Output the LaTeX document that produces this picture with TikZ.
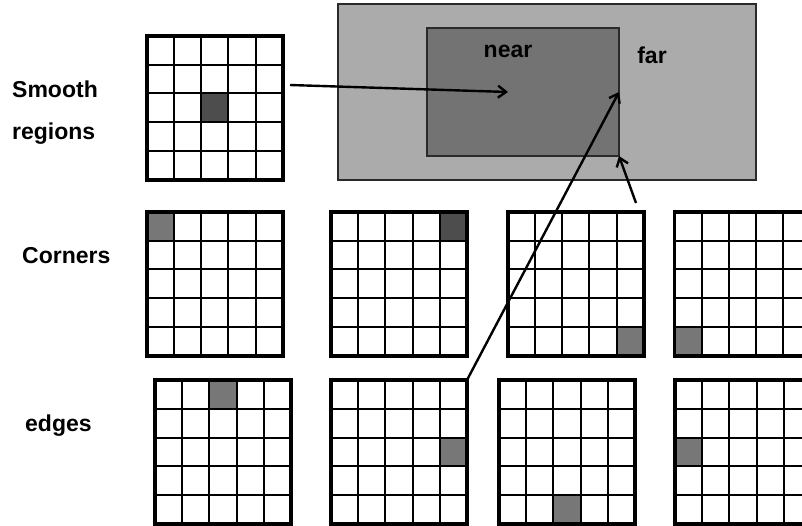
\documentclass[tikz,border=0pt]{standalone}
\usepackage{fontspec}
\setmainfont{Liberation Sans}
\usetikzlibrary{arrows.meta,calc}
\definecolor{farcol}{HTML}{ABABAB}
\definecolor{nearcol}{HTML}{737373}
\definecolor{darkcell}{HTML}{4D4D4D}
\definecolor{midcell}{HTML}{777777}
\definecolor{rimcol}{HTML}{2A2A2A}
\tikzset{
  gridframe/.style={draw=black, line width=3.8pt, minimum width=136pt, minimum height=144pt, inner sep=0pt, outer sep=0pt},
  gridline/.style={draw=black, line width=2pt},
  regionbox/.style={draw=rimcol, line width=1.2pt, inner sep=0pt, outer sep=0pt},
  lbl/.style={font=\fontsize{23}{27}\selectfont\bfseries, inner sep=0pt, text=black},
  conn/.style={draw=black, line width=2.4pt, -{Straight Barb[length=8pt,width=12pt]}}
}
\newcommand{\pixgrid}[6]{%
  \fill[#6] ({#2+#4*27.2},{#3+#5*28.8}) rectangle ++(27.2,28.8);
  \foreach \k in {1,...,4}{
    \draw[gridline] ({#2+\k*27.2},#3) -- ++(0,144);
    \draw[gridline] (#2,{#3+\k*28.8}) -- ++(136,0);
  }
  \node[gridframe, anchor=north west] (#1) at (#2,#3) {};
}
\begin{document}
\begin{tikzpicture}[x=1pt,y=-1pt]
\useasboundingbox (0,0) rectangle (802,525);
\clip (0,0) rectangle (802,525);
\fill[white] (0,0) rectangle (802,525);
% region rectangles
\node[regionbox, fill=farcol, minimum width=418pt, minimum height=176pt, anchor=north west] (farbox) at (338,4) {};
\node[regionbox, fill=nearcol, minimum width=192pt, minimum height=128pt, anchor=north west] (nearbox) at (427,28) {};
\node[lbl, anchor=base] (tnear) at (508,57) {near};
\node[lbl, anchor=base] (tfar) at (652,63) {far};
% grids
\pixgrid{S}{146.7}{35.7}{2}{2}{darkcell}
\pixgrid{C1}{146.7}{211.7}{0}{0}{midcell}
\pixgrid{C2}{331}{211.7}{4}{0}{darkcell}
\pixgrid{C3}{507.7}{211.7}{4}{4}{midcell}
\pixgrid{C4}{674.5}{211.7}{0}{4}{midcell}
\pixgrid{E1}{155}{380}{2}{0}{midcell}
\pixgrid{E2}{331}{380}{4}{2}{midcell}
\pixgrid{E3}{499}{380}{2}{4}{midcell}
\pixgrid{E4}{675}{380}{0}{2}{midcell}
% labels
\node[lbl, anchor=base west] (tsmooth) at (12,97) {Smooth};
\node[lbl, anchor=base west] (tregions) at (12,139) {regions};
\node[lbl, anchor=base west] (tcorners) at (22,263) {Corners};
\node[lbl, anchor=base west] (tedges) at (25,431) {edges};
% connectors
\coordinate (t1) at (290,85);
\coordinate (h1) at (508,92);
\coordinate (t3) at (636,203);
\draw[conn] (t1) -- (h1);
\draw[conn] (E2.north east) -- (nearbox.east);
\draw[conn] (t3) -- (nearbox.south east);
\end{tikzpicture}
\end{document}
